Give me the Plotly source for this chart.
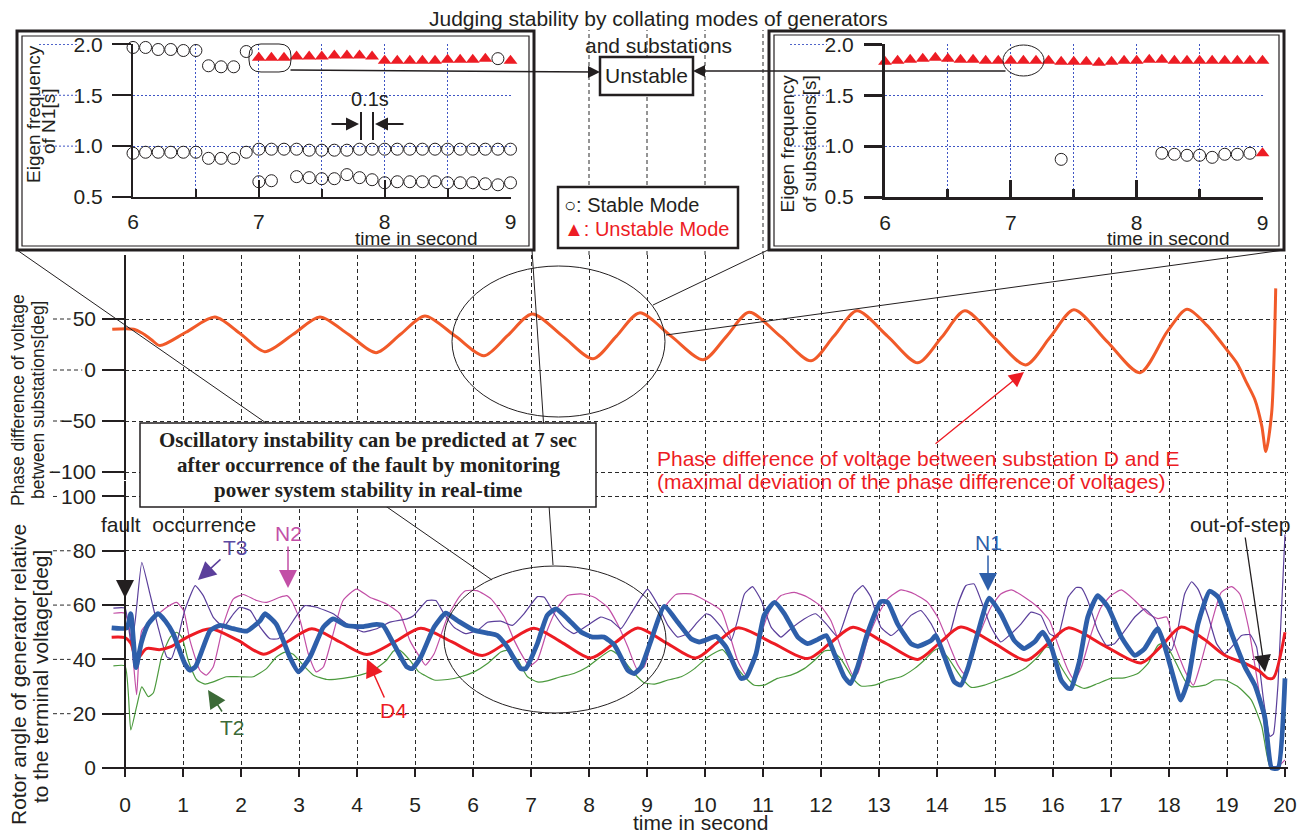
import plotly.graph_objects as go

# the page body keeps an 8 px margin, so the figure is drawn 8 px in from the window corner
OFF = 8
W, H = 1309 - OFF, 834 - OFF
def PX(x): return (x - OFF) / W
def PY(y): return 1 - (y - OFF) / H

FONT = "Liberation Sans, Arial, Helvetica, sans-serif"
SERIF = "Liberation Serif, Times New Roman, serif"
BLACK = "#231f20"
ORANGE = "#f15a29"
BLUE = "#2e5faa"
RED = "#ed1c24"
MAGENTA = "#c24fa6"
PURPLE = "#5b3f9b"
GREEN = "#4c9a3e"
DKGREEN = "#3c6a37"
GRIDBLUE = "#3f55c4"

# ---------------- data ----------------
time_ticks = [0, 1, 2, 3, 4, 5, 6, 7, 8, 9, 10, 11, 12, 13, 14, 15, 16, 17, 18, 19, 20]
phase_ticks = [-100, -50, 0, 50]
rotor_ticks = [0, 20, 40, 60, 80, 100]
inset_time_ticks = [6, 7, 8, 9]
inset_time_minor = [6.5, 7.5, 8.5]
inset_freq_ticks = [0.5, 1.0, 1.5, 2.0]
inset_freq_labels = ["0.5", "1.0", "1.5", "2.0"]

# phase difference between substations D and E
phase_t = [-0.22, 0.15, 0.3, 0.45, 0.6, 1.05, 1.55, 2.0, 2.41, 2.9, 3.36, 3.85, 4.33, 4.75, 5.17, 5.7,
           6.19, 6.6, 7.02, 7.55, 8.07, 8.47, 8.87, 9.42, 9.97, 10.37, 10.76, 11.3, 11.83, 12.22, 12.62,
           13.15, 13.67, 14.08, 14.48, 15.0, 15.53, 15.95, 16.36, 16.93, 17.5, 17.97, 18.31, 18.65, 19.0,
           19.17, 19.34, 19.48, 19.6, 19.67, 19.77, 19.81, 19.84]
phase_v = [40, 40, 36, 30, 24, 37, 52, 35, 18, 35, 52, 35, 17, 35, 53, 33,
           14, 34, 55, 33, 11, 33, 56, 33, 10, 33, 56.5, 33, 9, 33, 58,
           33, 7, 32, 58, 31, 5, 32, 59, 28, -2.6, 37.6, 59.5, 44, 19.6,
           6.8, -12.7, -29, -55, -80, -42, 10, 80]

n1_t = [-0.23, 0.03, 0.1, 0.19, 0.28, 0.4, 0.57, 0.7, 0.83, 1.03, 1.12, 1.22, 1.47, 1.64, 1.87, 2.1, 2.33,
        2.41, 2.61, 2.84, 2.99, 3.19, 3.42, 3.59, 3.82, 4.11, 4.34, 4.45, 4.63, 4.86, 4.95, 5.1, 5.33, 5.53,
        5.73, 6.02, 6.25, 6.42, 6.59, 6.82, 6.91, 7.11, 7.28, 7.43, 7.63, 7.86, 8.06, 8.26, 8.44, 8.67, 8.78,
        8.9, 9.07, 9.3, 9.53, 9.76, 9.9, 10.0, 10.19, 10.36, 10.62, 10.71, 10.88, 11.02, 11.2, 11.37, 11.6,
        11.77, 11.94, 12.09, 12.23, 12.4, 12.51, 12.63, 12.8, 13.03, 13.15, 13.32, 13.55, 13.67, 13.9, 13.98,
        14.13, 14.3, 14.41, 14.53, 14.7, 14.9, 15.1, 15.33, 15.5, 15.68, 15.82, 15.97, 16.14, 16.26, 16.31,
        16.46, 16.6, 16.77, 16.95, 17.18, 17.41, 17.58, 17.75, 17.81, 17.93, 18.1, 18.2, 18.33, 18.5, 18.7,
        18.85, 19.08, 19.31, 19.48, 19.65, 19.77, 19.88, 20.0]
n1_v = [51.6, 51.6, 56.8, 37, 46, 53, 56.8, 54, 49.5, 38.5, 36, 37.5, 50.7, 52.5, 51.3, 50.4, 54.3,
        56.8, 52.9, 40.9, 35.4, 40.9, 51.9, 54.9, 52.5, 52.1, 52.9, 52.5, 45.8, 37.2, 36.6, 40.9, 51.9, 57,
        54.3, 50.7, 49.7, 48.8, 44.6, 36.6, 36.6, 45.8, 56.2, 58.6, 55, 50.1, 48.2, 48.2, 45.2, 36, 34.8,
        37.2, 47, 59.5, 53.7, 47.6, 46.4, 47, 48.5, 44.6, 33, 33.5, 42.1, 56.2, 61, 56.8, 48.2,
        45.8, 47.3, 48.8, 42.1, 33.6, 31.1, 37.2, 49.5, 61.3, 61, 53.1, 45.8, 44.8, 47, 48.8,
        40.9, 31.7, 30.5, 36.6, 49.5, 62.6, 56.8, 47, 44, 46.4, 50, 44.6, 32.4, 29.3, 29.3,
        39.7, 55.6, 63.5, 59.2, 48.2, 41.5, 44, 50, 51.3, 44.6, 31.7, 25, 32.4, 53.1, 65.1,
        62.9, 49.5, 37.2, 30.5, 18.9, 0, 0, 33]

d4_t = [-0.23, 0.0, 0.1, 0.2, 0.37, 0.6, 0.78, 1.1, 1.47, 1.95, 2.39, 2.8, 3.22, 3.7, 4.17, 4.65, 5.1,
        5.63, 6.16, 6.6, 7.05, 7.55, 8.03, 8.44, 8.84, 9.34, 9.84, 10.2, 10.56, 11.17, 11.77, 12.16, 12.55,
        13.11, 13.67, 14.04, 14.41, 14.98, 15.54, 15.9, 16.26, 16.89, 17.52, 17.87, 18.21, 18.6, 18.96,
        19.31, 19.55, 19.71, 19.8, 20.0]
d4_v = [48.2, 48, 46, 40, 44, 43.6, 44.6, 48.5, 51.3, 47, 41.9, 46.5, 51.3, 46.5, 41.8, 46.5, 51.5,
        46.5, 41.4, 46.5, 51.5, 46, 40.5, 46, 51.6, 46, 40.5, 46, 51.6, 46, 40.3, 46, 51.8,
        46, 40, 46, 51.9, 46, 39.7, 45.5, 51.6, 45, 38.7, 45, 51.9, 47.5, 41.5,
        38.5, 35.8, 33, 33.2, 50]

n2_t = [-0.2, 0.0, 0.11, 0.2, 0.29, 0.52, 0.72, 0.89, 1.01, 1.12, 1.29, 1.4, 1.52, 1.7, 1.87, 2.04, 2.27,
        2.44, 2.67, 2.79, 2.87, 3.02, 3.16, 3.3, 3.42, 3.59, 3.76, 3.99, 4.22, 4.51, 4.74, 4.91, 5.1, 5.18,
        5.33, 5.56, 5.76, 5.87, 6.07, 6.31, 6.54, 6.71, 6.88, 6.97, 7.11, 7.28, 7.46, 7.63, 7.86, 8.09, 8.32,
        8.49, 8.67, 8.84, 8.95, 9.13, 9.3, 9.5, 9.76, 9.99, 10.28, 10.42, 10.56, 10.71, 10.79, 10.97, 11.14,
        11.31, 11.54, 11.77, 12.0, 12.17, 12.34, 12.55, 12.63, 12.8, 12.98, 13.15, 13.38, 13.61, 13.84, 14.01,
        14.18, 14.36, 14.47, 14.59, 14.76, 14.93, 15.1, 15.28, 15.51, 15.74, 15.94, 16.08, 16.26, 16.37,
        16.49, 16.66, 16.83, 17.0, 17.18, 17.41, 17.64, 17.81, 17.96, 18.07, 18.27, 18.42, 18.53, 18.73,
        18.9, 19.08, 19.22, 19.37, 19.54, 19.65, 19.77, 19.88, 20.0]
n2_v = [57, 57, 47, 27, 50.7, 55.6, 59.2, 61, 58, 47, 36, 34.2, 37.2, 53.1, 62.3, 63.9, 61.7,
        61, 62.9, 63.5, 61.7, 54.3, 42.1, 35.4, 37.2, 49.5, 61.7, 65.9, 62.9, 60.4, 56.8, 47, 40.3, 37.9,
        42.1, 55.6, 62.9, 65.3, 65.3, 62.3, 55.6, 47, 40.3, 37.6, 39.7, 50.7, 59.2, 63.5, 64.1, 62.9, 59.2,
        53.1, 44.6, 36, 37.2, 50.7, 59.2, 63.9, 64.1, 61.9, 58, 49.5, 39.7, 34.2, 36, 49.5, 59.2,
        63.5, 64.7, 62.9, 59.5, 54.3, 44.6, 34.2, 34.8, 47, 56.2, 62.3, 65.6, 64.1, 61, 55.6,
        47, 37.9, 34.8, 40.9, 50.7, 59.2, 64.1, 65.6, 62.9, 59.2, 54.3, 45.8, 36, 32.4,
        37.2, 49.5, 59.2, 63.5, 65.6, 61.7, 56.8, 55, 55.6, 47, 36, 30.5, 37.2, 53.1,
        64.7, 66.8, 64.1, 51.9, 29.9, 15.3, 0.6, 0.6, 3]

t3_t = [-0.2, 0.0, 0.11, 0.18, 0.29, 0.43, 0.57, 0.72, 0.8, 0.89, 1.03, 1.21, 1.35, 1.52, 1.7, 1.87, 1.98,
        2.16, 2.33, 2.5, 2.64, 2.79, 2.96, 3.1, 3.3, 3.59, 3.82, 4.11, 4.34, 4.57, 4.86, 4.98, 5.21, 5.36,
        5.5, 5.67, 5.87, 6.08, 6.25, 6.48, 6.68, 6.88, 7.11, 7.23, 7.4, 7.57, 7.74, 7.97, 8.2, 8.38, 8.55,
        8.72, 8.9, 9.01, 9.18, 9.36, 9.53, 9.7, 9.87, 10.02, 10.1, 10.28, 10.45, 10.56, 10.68, 10.82, 10.97,
        11.14, 11.31, 11.48, 11.71, 11.91, 12.09, 12.29, 12.46, 12.57, 12.72, 12.86, 13.03, 13.21, 13.38,
        13.55, 13.72, 13.9, 14.07, 14.21, 14.36, 14.5, 14.64, 14.76, 14.93, 15.1, 15.28, 15.45, 15.62, 15.79,
        15.94, 16.08, 16.26, 16.4, 16.49, 16.6, 16.77, 16.92, 17.06, 17.24, 17.41, 17.58, 17.75, 17.9, 18.04,
        18.16, 18.27, 18.39, 18.5, 18.68, 18.82, 18.96, 19.13, 19.25, 19.4, 19.51, 19.63, 19.74, 19.8, 19.88,
        20.0]
t3_v = [58.9, 58.9, 45, 55, 75.7, 64.1, 51.9, 40.9, 40.3, 45.8, 58, 67.2, 63.5, 55.6, 51.9, 56.8, 59.2,
        58, 51.9, 47.6, 47.6, 50.7, 56.2, 59.8, 59.2, 56.8, 53.1, 50.1, 51.3, 53.7, 54.9, 56.2, 61.7, 61.7,
        56.8, 51.9, 49.5, 50.7, 53.7, 54.1, 52.5, 56.8, 63.1, 62.9, 56.8, 51.9, 49.5, 52.5, 55.6, 54.3, 51.3,
        56.8, 62.9, 65.9, 60.4, 52.5, 48.2, 49.5, 53.7, 56.8, 56.2, 51.9, 47, 54.3, 64.1, 66.8, 61.7,
        51.9, 48.2, 51.3, 54.9, 56.8, 53.1, 48.2, 58, 64.1, 67.2, 62.9, 51.9, 48.8, 51.9,
        56.2, 58, 53.1, 46.4, 48.8, 60.4, 67.2, 67.8, 61.7, 51.9, 46.4, 49.5, 53.1, 57.4, 56.2,
        49.5, 48.2, 62.9, 66.5, 66.3, 61.7, 50.7, 45.2, 45.8, 50.7, 55.6, 58.6, 55, 47, 43.3,
        51.9, 64.1, 68.6, 65.9, 55.6, 45.8, 42.1, 45.8, 48.8, 49.1, 44.6, 25, 11.6, 12.5, 31,
        86]

t2_t = [-0.2, 0.0, 0.1, 0.2, 0.29, 0.4, 0.49, 0.63, 0.78, 0.89, 0.98, 1.09, 1.24, 1.38, 1.52, 1.75, 1.98,
        2.21, 2.44, 2.61, 2.76, 2.9, 3.07, 3.25, 3.48, 3.76, 4.05, 4.28, 4.51, 4.63, 4.74, 4.91, 5.06, 5.16,
        5.33, 5.56, 5.79, 6.02, 6.25, 6.48, 6.59, 6.77, 6.94, 7.11, 7.28, 7.51, 7.74, 7.97, 8.2, 8.38, 8.55,
        8.78, 8.95, 9.13, 9.36, 9.59, 9.82, 10.05, 10.3, 10.45, 10.68, 10.85, 11.02, 11.25, 11.48, 11.71,
        11.89, 12.06, 12.17, 12.34, 12.55, 12.69, 12.92, 13.15, 13.38, 13.61, 13.78, 13.95, 14.04, 14.18,
        14.41, 14.59, 14.82, 15.05, 15.28, 15.51, 15.74, 15.88, 15.97, 16.14, 16.31, 16.54, 16.77, 17.0,
        17.23, 17.46, 17.64, 17.81, 17.93, 18.07, 18.27, 18.39, 18.62, 18.79, 18.96, 19.19, 19.42, 19.6,
        19.74, 19.88, 19.97, 20.0]
t2_v = [37.6, 37.6, 14, 22.6, 29.9, 26.3, 27.7, 40.9, 48.2, 50, 48.2, 39.7, 32.4, 30.9, 31.7, 33.6, 33.6,
        33.6, 36.6, 40.9, 42.7, 41.9, 37.9, 34.2, 32.6, 33, 34.2, 36, 39.7, 43.1, 43.3, 39.7, 35.5, 34.2,
        32.4, 32.6, 33.6, 35.4, 38.5, 42.7, 43.3, 39.7, 33.6, 31.7, 32.1, 33.6, 34.8, 37.2, 40.9, 43.3, 40.9,
        34.8, 31.4, 30.9, 32.4, 33.6, 36.6, 40.9, 43.6, 39.7, 33.6, 30.5, 30.5, 33, 34.2, 36.6,
        39.7, 43.1, 43.3, 40.3, 33, 30.2, 30.5, 32.4, 33.6, 36.6, 39.7, 43.3, 44, 40.9,
        33.6, 29.7, 30.5, 32.4, 34.2, 36.6, 40.9, 44.6, 44, 37.2, 31.7, 29.3, 31.1, 33,
        33.2, 34.8, 38.5, 45.2, 46, 40.9, 32.4, 29.9, 30.5, 32.4, 32.4, 29.9, 25, 15.3,
        0.6, 0.6, 12.8, 20.1]

# inset: eigen frequency of N1
n1_upper_t = [6.0, 6.1, 6.2, 6.3, 6.4, 6.5, 6.6, 6.7, 6.8, 6.9, 8.9]
n1_upper_f = [1.97, 1.97, 1.95, 1.95, 1.94, 1.94, 1.79, 1.78, 1.78, 1.93, 1.86]
n1_mid_t = [6.0, 6.1, 6.2, 6.3, 6.4, 6.5, 6.6, 6.7, 6.8, 6.9, 7.0, 7.1, 7.2, 7.3, 7.4, 7.5, 7.6, 7.7,
            7.8, 7.9, 8.0, 8.1, 8.2, 8.3, 8.4, 8.5, 8.6, 8.7, 8.8, 8.9, 9.0]
n1_mid_f = [0.93, 0.94, 0.94, 0.94, 0.94, 0.94, 0.88, 0.88, 0.88, 0.94, 0.97, 0.97, 0.97, 0.97, 0.96,
            0.96, 0.96, 0.96, 0.97, 0.97, 0.97, 0.97, 0.97, 0.97, 0.97, 0.97, 0.97, 0.97, 0.97, 0.97, 0.97]
n1_low_t = [7.0, 7.1, 7.3, 7.4, 7.5, 7.6, 7.7, 7.8, 7.9, 8.0, 8.1, 8.2, 8.3, 8.4, 8.5, 8.6, 8.7, 8.8, 8.9, 9.0]
n1_low_f = [0.65, 0.66, 0.70, 0.69, 0.68, 0.68, 0.72, 0.69, 0.67, 0.64, 0.65, 0.65, 0.65, 0.65, 0.64,
            0.64, 0.64, 0.63, 0.62, 0.64]
n1_unstable_t = [7.0, 7.1, 7.2, 7.3, 7.4, 7.5, 7.6, 7.7, 7.8, 7.9, 8.0, 8.1, 8.2, 8.3, 8.4, 8.5, 8.6,
                 8.7, 8.8, 9.0]
n1_unstable_f = [1.87, 1.87, 1.87, 1.88, 1.88, 1.88, 1.89, 1.89, 1.89, 1.88, 1.84, 1.84, 1.84, 1.84,
                 1.84, 1.85, 1.85, 1.85, 1.86, 1.84]

# inset: eigen frequency of substations
sub_unstable_t = [6.0, 6.1, 6.2, 6.3, 6.4, 6.5, 6.6, 6.7, 6.8, 6.9, 7.0, 7.1, 7.2, 7.3, 7.4, 7.5, 7.6,
                  7.7, 7.8, 7.9, 8.0, 8.1, 8.2, 8.3, 8.4, 8.5, 8.6, 8.7, 8.8, 8.9, 9.0, 9.0]
sub_unstable_f = [1.83, 1.84, 1.85, 1.86, 1.87, 1.86, 1.85, 1.85, 1.84, 1.84, 1.84, 1.84, 1.84, 1.84,
                  1.83, 1.83, 1.83, 1.82, 1.83, 1.84, 1.84, 1.85, 1.85, 1.84, 1.84, 1.84, 1.84, 1.84,
                  1.84, 1.84, 1.84, 0.93]
sub_stable_t = [7.4, 8.2, 8.3, 8.4, 8.5, 8.6, 8.7, 8.8, 8.9]
sub_stable_f = [0.87, 0.93, 0.92, 0.91, 0.91, 0.89, 0.92, 0.92, 0.93]

# ---------------- figure ----------------
fig = go.Figure()

fig.add_trace(go.Scatter(x=phase_t, y=phase_v, xaxis="x", yaxis="y2", mode="lines",
                         line=dict(color=ORANGE, width=3, shape="spline", smoothing=0.8)))
fig.add_trace(go.Scatter(x=t2_t, y=t2_v, mode="lines", line=dict(color=GREEN, width=1.2, shape="spline", smoothing=0.5)))
fig.add_trace(go.Scatter(x=n2_t, y=n2_v, mode="lines", line=dict(color=MAGENTA, width=1.2, shape="spline", smoothing=0.5)))
fig.add_trace(go.Scatter(x=t3_t, y=t3_v, mode="lines", line=dict(color=PURPLE, width=1.2, shape="spline", smoothing=0.4)))
fig.add_trace(go.Scatter(x=d4_t, y=d4_v, mode="lines", line=dict(color=RED, width=3, shape="spline", smoothing=0.8)))
fig.add_trace(go.Scatter(x=n1_t, y=n1_v, mode="lines", line=dict(color=BLUE, width=4.8, shape="spline", smoothing=0.5)))

circ = dict(symbol="circle-open", size=12, color=BLACK, line=dict(width=1, color=BLACK))
tri = dict(symbol="triangle-up", size=12, color=RED, line=dict(width=0))
for tt, ff in [(n1_upper_t, n1_upper_f), (n1_mid_t, n1_mid_f), (n1_low_t, n1_low_f)]:
    fig.add_trace(go.Scatter(x=tt, y=ff, xaxis="x3", yaxis="y3", mode="markers", marker=circ, cliponaxis=False))
fig.add_trace(go.Scatter(x=n1_unstable_t, y=n1_unstable_f, xaxis="x3", yaxis="y3", mode="markers",
                         marker=tri, cliponaxis=False))
fig.add_trace(go.Scatter(x=sub_stable_t, y=sub_stable_f, xaxis="x4", yaxis="y4", mode="markers",
                         marker=circ, cliponaxis=False))
fig.add_trace(go.Scatter(x=sub_unstable_t, y=sub_unstable_f, xaxis="x4", yaxis="y4", mode="markers",
                         marker=tri, cliponaxis=False))

tickfont = dict(family=FONT, size=21, color=BLACK)
grid_main = dict(showgrid=True, gridcolor="#2a2a2a", gridwidth=1, griddash="4px,3px", zeroline=False,
                 automargin=False)

main_x = dict(domain=[PX(110.5), PX(1287.9)], range=[-0.25, 20.05], anchor="free", position=PY(768),
              tickvals=time_ticks, ticks="outside", ticklen=8, tickwidth=1.5, tickcolor=BLACK,
              showline=True, linecolor=BLACK, linewidth=1.5, tickfont=tickfont, ticklabelstandoff=10,
              **grid_main)
rotor_y = dict(domain=[PY(771), PY(481)], range=[-1.105, 105.7], anchor="free", position=PX(125),
               tickvals=rotor_ticks, ticks="outside", ticklen=22, tickwidth=1.5, tickcolor=BLACK,
               showline=True, linecolor=BLACK, linewidth=1.5, tickfont=tickfont, ticklabelstandoff=2,
               **grid_main)
phase_y = dict(domain=[PY(480), PY(255)], range=[-107.84, 112.75], anchor="free", position=PX(125),
               tickvals=phase_ticks, ticks="outside", ticklen=22, tickwidth=1.5, tickcolor=BLACK,
               showline=True, linecolor=BLACK, linewidth=1.5, tickfont=tickfont, ticklabelstandoff=2,
               **grid_main)

def inset_axes(x0, x1, lw, ylen, ystand):
    xa = dict(domain=[PX(x0), PX(x1)], range=[6, 9.004], tickvals=inset_time_ticks, ticks="inside",
              ticklen=17, tickwidth=lw, tickcolor=BLACK, showline=True, linecolor=BLACK, linewidth=lw,
              showgrid=True, gridcolor=GRIDBLUE, gridwidth=1, griddash="2px,2px", zeroline=False,
              minor=dict(tickvals=inset_time_minor, ticks="inside", ticklen=8, tickwidth=lw,
                         tickcolor=BLACK, showgrid=True, gridcolor=GRIDBLUE, gridwidth=1,
                         griddash="2px,2px"),
              tickfont=tickfont, ticklabelstandoff=5, automargin=False)
    ya = dict(domain=[PY(197), PY(44)], range=[0.5, 2.004], tickvals=inset_freq_ticks,
              ticktext=inset_freq_labels, ticks="outside", ticklen=ylen, tickwidth=lw, tickcolor=BLACK,
              showline=True, linecolor=BLACK, linewidth=lw, showgrid=True, gridcolor=GRIDBLUE,
              gridwidth=1, griddash="2px,2px", zeroline=False, tickfont=tickfont,
              ticklabelstandoff=ystand, automargin=False)
    return xa, ya

x3, y3 = inset_axes(133, 511, 2, 19, 5)
x4, y4 = inset_axes(885, 1263, 3, 18, 6)
x3["anchor"] = "y3"; y3["anchor"] = "x3"
x4["anchor"] = "y4"; y4["anchor"] = "x4"

# ---------------- shapes ----------------
shapes = []
def rect(x0, y0, x1, y1, width, fill="rgba(0,0,0,0)", layer="below"):
    shapes.append(dict(type="rect", xref="paper", yref="paper", x0=PX(x0), x1=PX(x1), y0=PY(y1), y1=PY(y0),
                       line=dict(color=BLACK, width=width), fillcolor=fill, layer=layer))
def seg(x0, y0, x1, y1, width=1.0, color=BLACK, dash="solid", layer="above"):
    shapes.append(dict(type="line", xref="paper", yref="paper", x0=PX(x0), x1=PX(x1), y0=PY(y0), y1=PY(y1),
                       line=dict(color=color, width=width, dash=dash), layer=layer))
def ellipse(x0, y0, x1, y1, width=1.0):
    shapes.append(dict(type="circle", xref="paper", yref="paper", x0=PX(x0), x1=PX(x1), y0=PY(y1), y1=PY(y0),
                       line=dict(color=BLACK, width=width), layer="above"))

# inset boxes (double frame)
rect(17, 31, 534, 250, 3, fill="white")
rect(22, 36, 529, 246, 1.2)
rect(769, 31, 1284, 250, 3, fill="white")
rect(774, 35, 1279, 246, 1.2)

# main vertical grid visible between the two insets
for t in [8, 9, 10, 11]:
    shapes.append(dict(type="line", xref="x", yref="paper", x0=t, x1=t, y0=PY(255), y1=PY(30),
                       line=dict(color="#2a2a2a", width=1, dash="4px,3px"), layer="below"))

# Unstable box and legend box
rect(600, 57, 693, 95, 2.5, fill="white")
rect(558, 187, 738, 248, 2.5, fill="white")

# inset grid extensions to the left (behind tick labels)
for v in [1.0, 1.5, 2.0]:
    shapes.append(dict(type="line", xref="paper", yref="y3", x0=PX(39), x1=PX(77), y0=v, y1=v,
                       line=dict(color=GRIDBLUE, width=1, dash="2px,2px"), layer="below"))
    shapes.append(dict(type="line", xref="paper", yref="y4", x0=PX(790), x1=PX(827), y0=v, y1=v,
                       line=dict(color=GRIDBLUE, width=1, dash="2px,2px"), layer="below"))

# main horizontal grid extensions to the left of tick labels
def label_width(v):
    s = str(v)
    return sum(7.0 if ch == "-" else 11.7 for ch in s)
for v in phase_ticks:
    shapes.append(dict(type="line", xref="paper", yref="y2", x0=PX(53), x1=PX(97 - label_width(v) - 3),
                       y0=v, y1=v, line=dict(color="#2a2a2a", width=1, dash="4px,3px"), layer="below"))
for v in rotor_ticks[1:]:
    shapes.append(dict(type="line", xref="paper", yref="y", x0=PX(53), x1=PX(97 - label_width(v) - 3),
                       y0=v, y1=v, line=dict(color="#2a2a2a", width=1, dash="4px,3px"), layer="below"))

# connector lines from insets
seg(17, 250, 492, 580)
seg(532, 250, 553, 565)
seg(768, 250, 653, 305)
seg(1284, 250, 666, 335)

# ellipses
ellipse(452, 266, 665, 417)
ellipse(444, 566, 666, 713)
ellipse(1003, 45, 1044, 76)

# rounded rectangle in N1 inset
x0, y0, x1, y1, r = 249, 44, 291, 72, 12
pts = [("M", x0 + r, y0), ("L", x1 - r, y0), ("Q", x1, y0, x1, y0 + r), ("L", x1, y1 - r),
       ("Q", x1, y1, x1 - r, y1), ("L", x0 + r, y1), ("Q", x0, y1, x0, y1 - r), ("L", x0, y0 + r),
       ("Q", x0, y0, x0 + r, y0)]
path = ""
for p in pts:
    cmd = p[0]
    coords = p[1:]
    pairs = [f"{PX(coords[i]):.5f},{PY(coords[i+1]):.5f}" for i in range(0, len(coords), 2)]
    path += cmd + " ".join(pairs) + " "
shapes.append(dict(type="path", xref="paper", yref="paper", path=path + "Z",
                   line=dict(color=BLACK, width=1), layer="above"))

# 0.1 s bars
seg(361, 112, 361, 140, width=2)
seg(373, 112, 373, 140, width=2)

# text box
rect(140, 423, 596, 507, 1.5, fill="white", layer="above")

# ---------------- annotations ----------------
ann = []
def text(x, y, s, size=21, color=BLACK, xanchor="center", angle=0, family=FONT, yanchor="middle"):
    ann.append(dict(x=PX(x), y=PY(y), xref="paper", yref="paper", text=s, showarrow=False,
                    xanchor=xanchor, yanchor=yanchor, textangle=angle,
                    font=dict(family=family, size=size, color=color)))
def arrow(tip, tail, color=BLACK, width=1.5, size=2.0, head=2):
    ann.append(dict(x=PX(tip[0]), y=PY(tip[1]), xref="paper", yref="paper", text="",
                    showarrow=True, arrowhead=head, arrowsize=size, arrowwidth=width, arrowcolor=color,
                    ax=tail[0] - tip[0], ay=tail[1] - tip[1], axref="pixel", ayref="pixel",
                    standoff=0, startstandoff=0))

text(658, 18, "Judging stability by collating modes of generators")
text(658, 45, "and substations")
text(646.5, 76, "Unstable")
text(562, 205, "○: Stable Mode", size=20, xanchor="left")
text(562, 229, "▲: Unstable Mode", size=20, xanchor="left", color=RED)

text(33, 114, "Eigen frequency", size=19, angle=-90)
text(48, 122, "of N1[s]", size=19, angle=-90)
text(787.5, 144, "Eigen frequency", size=19, angle=-90)
text(809.5, 144, "of substations[s]", size=19, angle=-90)
text(416, 239, "time in second", size=19)
text(1168, 239, "time in second", size=19)
text(700, 822, "time in second", size=21)

text(370, 99, "0.1s", size=20)
arrow((359, 124), (330, 124), size=1.3, width=2)
arrow((375, 124), (405, 124), size=1.3, width=2)

arrow((600, 72), (289, 70), size=1.6, width=1.5)
arrow((693, 71), (1007, 71), size=1.6, width=1.5)

text(18, 400, "Phase difference of voltage", size=17.5, angle=-90)
text(38, 400, "between substations[deg]", size=17.5, angle=-90)
text(18, 675, "Rotor angle of generator relative", size=21, angle=-90)
text(40, 677, "to the terminal voltage[deg]", size=21, angle=-90)

text(368, 440, "<b>Oscillatory instability can be predicted at 7 sec</b>", size=21, family=SERIF)
text(368, 465, "<b>after occurrence of the fault by monitoring</b>", size=21, family=SERIF)
text(368, 490, "<b>power system stability in real-time</b>", size=21, family=SERIF)

text(655, 458, "Phase difference of voltage between substation D and E", size=21, color=RED, xanchor="left")
text(655, 481, "(maximal deviation of the phase difference of voltages)", size=21, color=RED, xanchor="left")
arrow((1024, 372), (934, 445), color=RED, width=1.3, size=2.3)

text(178, 524, "fault\u00a0 occurrence")
arrow((125, 598), (125, 533), color=BLACK, width=1.5, size=2.4)
text(235, 547, "T3", color="#5b4aa3")
arrow((198, 580), (222, 558), color=PURPLE, width=1.5, size=2.4)
text(288, 533, "N2", color="#c350a8")
arrow((288, 588), (288, 545), color=MAGENTA, width=1.5, size=2.4)
text(232, 727, "T2", color=DKGREEN)
arrow((208, 690), (223, 713), color=DKGREEN, width=1.5, size=2.4)
text(393, 710, "D4", color=RED)
arrow((367, 659), (385, 699), color=RED, width=1.5, size=2.4)
text(988, 542, "N1", color=BLUE)
arrow((988, 591), (988, 554), color=BLUE, width=1.5, size=2.4)
text(1240, 524, "out-of-step")
arrow((1265, 672), (1245, 536), color=BLACK, width=1.3, size=2.6)

fig.update_layout(
    width=W, height=H, margin=dict(l=0, r=0, t=0, b=0),
    paper_bgcolor="white", plot_bgcolor="rgba(0,0,0,0)", showlegend=False,
    xaxis=main_x, yaxis=rotor_y, yaxis2=phase_y,
    xaxis3=x3, yaxis3=y3, xaxis4=x4, yaxis4=y4,
    shapes=shapes, annotations=ann,
    font=dict(family=FONT, color=BLACK),
)

fig.write_html("out.html")
